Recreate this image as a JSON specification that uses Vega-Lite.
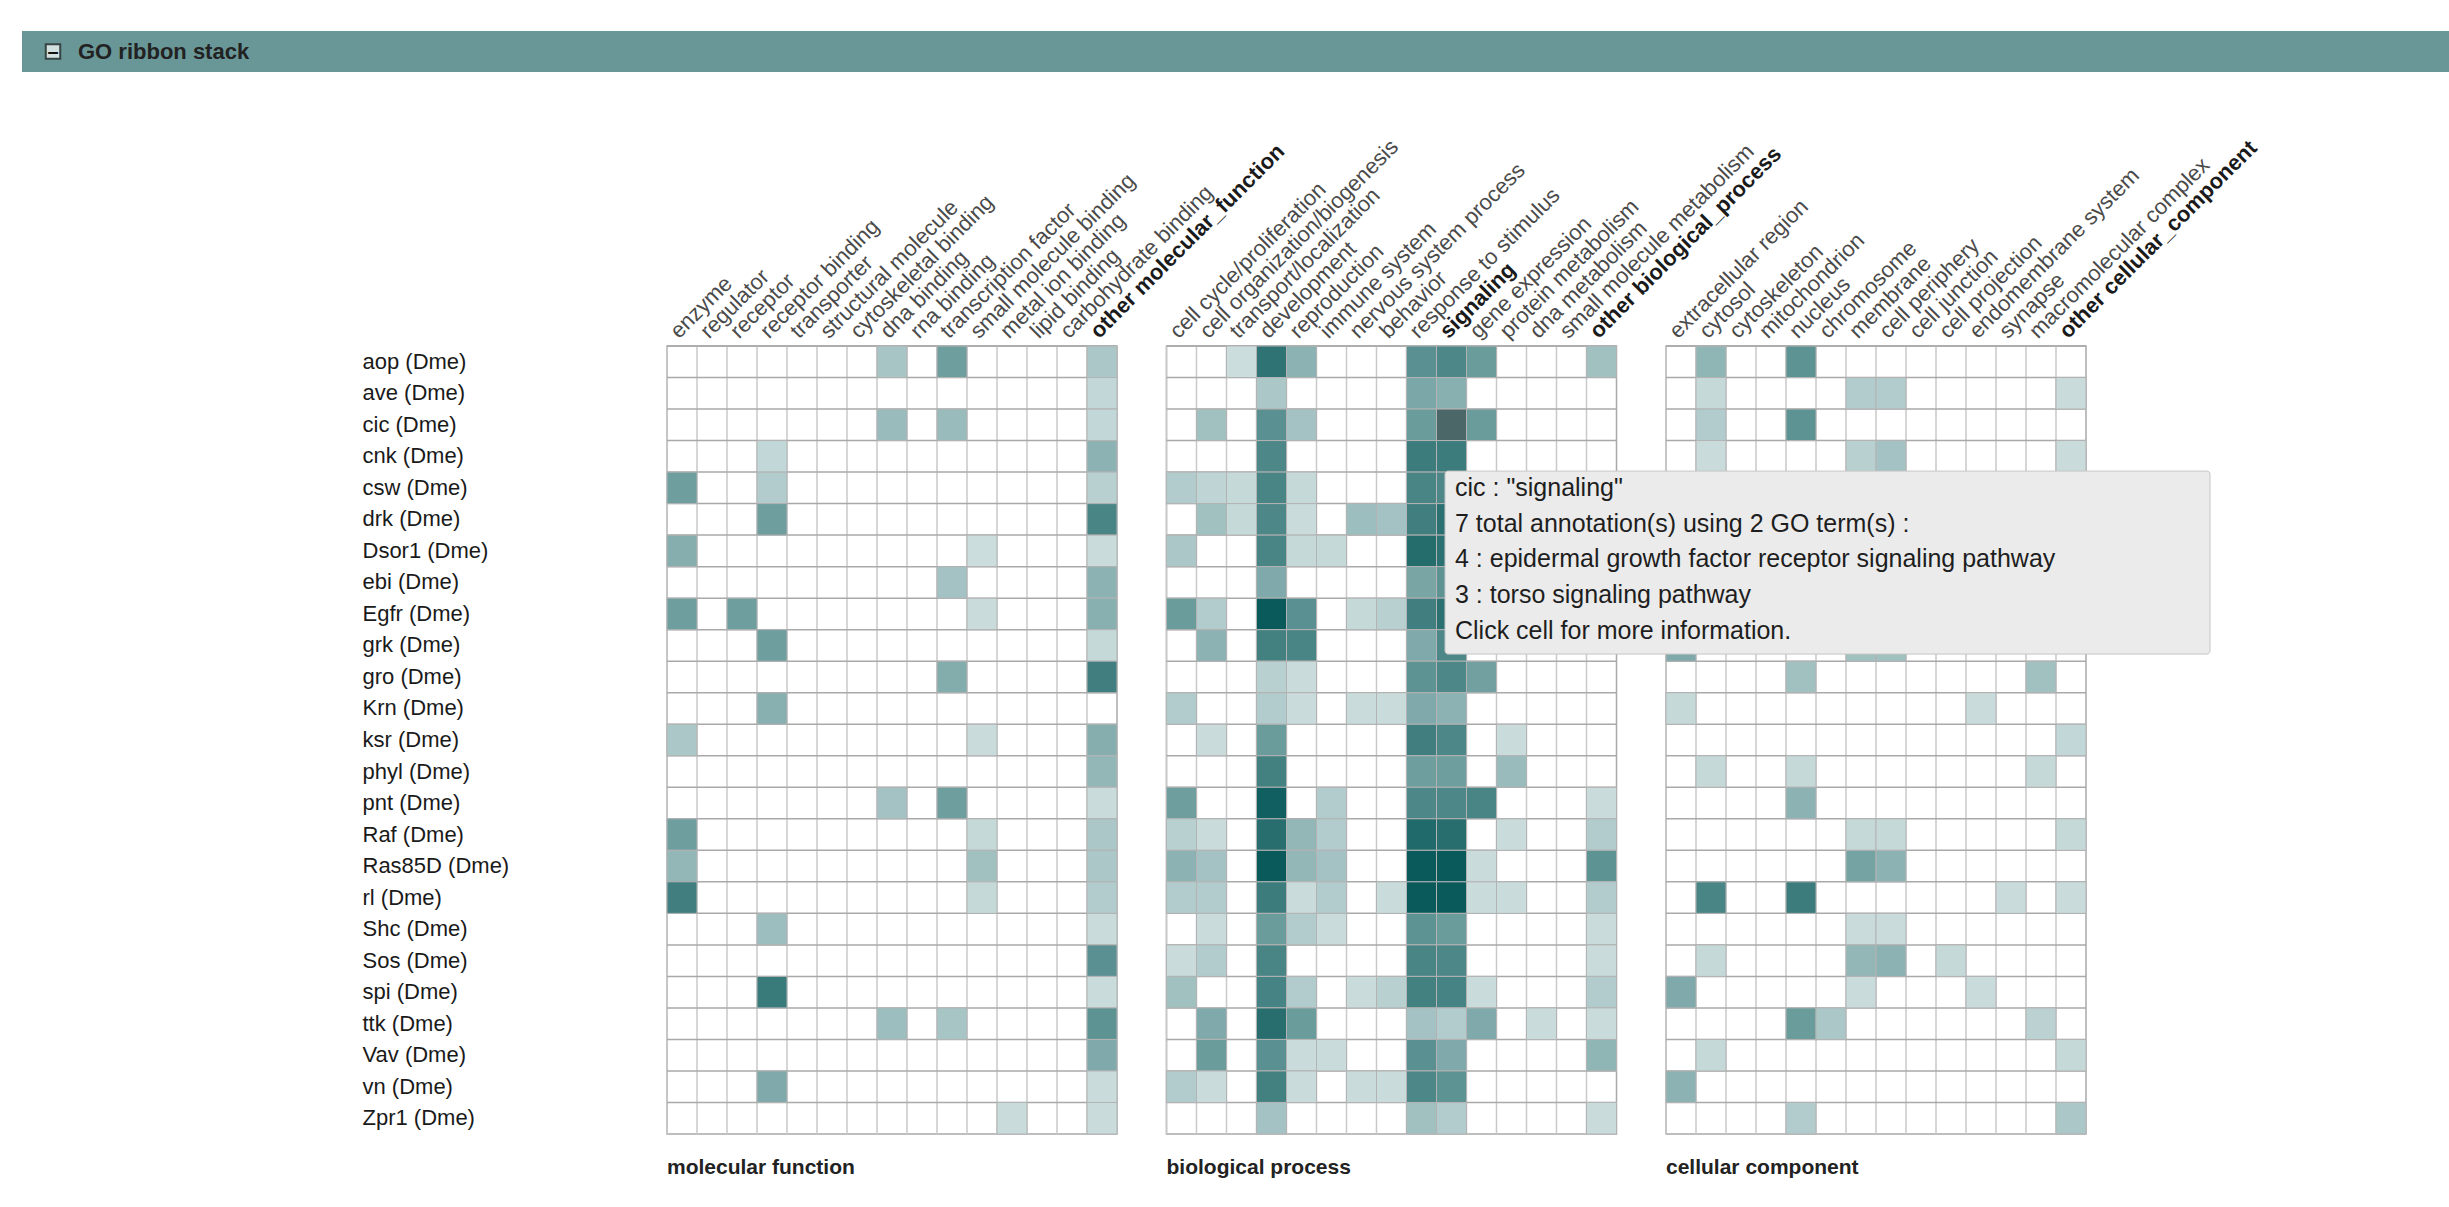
{
  "$schema": "https://vega.github.io/schema/vega-lite/v6.json",
  "background": "#ffffff",
  "padding": {"left": 22, "top": 31, "right": 0, "bottom": 0},
  "spacing": 62,
  "config": {
    "font": "Liberation Sans",
    "view": {"stroke": null},
    "axis": {"ticks": false, "domain": false, "grid": false, "labelFont": "Liberation Sans", "labelOverlap": false, "labelLimit": 600},
    "axisX": {"labelAngle": -45, "labelAlign": "left", "labelBaseline": "middle", "labelFontSize": 22, "labelPadding": 12, "labelOffset": -8},
    "title": {"font": "Liberation Sans", "fontSize": 21, "fontWeight": "bold", "color": "#222222", "orient": "bottom", "anchor": "start", "frame": "group", "offset": 22}
  },
  "datasets": {
    "genes": [
      {"gene": "aop"}, {"gene": "ave"}, {"gene": "cic"}, {"gene": "cnk"}, {"gene": "csw"}, {"gene": "drk"}, {"gene": "Dsor1"}, {"gene": "ebi"}, {"gene": "Egfr"}, {"gene": "grk"}, {"gene": "gro"}, {"gene": "Krn"}, {"gene": "ksr"}, {"gene": "phyl"}, {"gene": "pnt"}, {"gene": "Raf"}, {"gene": "Ras85D"}, {"gene": "rl"}, {"gene": "Shc"}, {"gene": "Sos"}, {"gene": "spi"}, {"gene": "ttk"}, {"gene": "Vav"}, {"gene": "vn"}, {"gene": "Zpr1"}
    ],
    "mfTerms": [
      {"term": "enzyme"}, {"term": "regulator"}, {"term": "receptor"}, {"term": "receptor binding"}, {"term": "transporter"}, {"term": "structural molecule"}, {"term": "cytoskeletal binding"}, {"term": "dna binding"}, {"term": "rna binding"}, {"term": "transcription factor"}, {"term": "small molecule binding"}, {"term": "metal ion binding"}, {"term": "lipid binding"}, {"term": "carbohydrate binding"}, {"term": "other molecular_function"}
    ],
    "bpTerms": [
      {"term": "cell cycle/proliferation"}, {"term": "cell organization/biogenesis"}, {"term": "transport/localization"}, {"term": "development"}, {"term": "reproduction"}, {"term": "immune system"}, {"term": "nervous system process"}, {"term": "behavior"}, {"term": "response to stimulus"}, {"term": "signaling"}, {"term": "gene expression"}, {"term": "protein metabolism"}, {"term": "dna metabolism"}, {"term": "small molecule metabolism"}, {"term": "other biological_process"}
    ],
    "ccTerms": [
      {"term": "extracellular region"}, {"term": "cytosol"}, {"term": "cytoskeleton"}, {"term": "mitochondrion"}, {"term": "nucleus"}, {"term": "chromosome"}, {"term": "membrane"}, {"term": "cell periphery"}, {"term": "cell junction"}, {"term": "cell projection"}, {"term": "endomembrane system"}, {"term": "synapse"}, {"term": "macromolecular complex"}, {"term": "other cellular_component"}
    ],
    "mf": [
      {"gene": "aop", "term": "dna binding", "level": 2.3},
      {"gene": "aop", "term": "transcription factor", "level": 4},
      {"gene": "aop", "term": "other molecular_function", "level": 2.2},
      {"gene": "ave", "term": "other molecular_function", "level": 1.5},
      {"gene": "cic", "term": "dna binding", "level": 2.7},
      {"gene": "cic", "term": "transcription factor", "level": 2.7},
      {"gene": "cic", "term": "other molecular_function", "level": 1.5},
      {"gene": "cnk", "term": "receptor binding", "level": 1.5},
      {"gene": "cnk", "term": "other molecular_function", "level": 3.1},
      {"gene": "csw", "term": "enzyme", "level": 4},
      {"gene": "csw", "term": "receptor binding", "level": 2},
      {"gene": "csw", "term": "other molecular_function", "level": 1.8},
      {"gene": "drk", "term": "receptor binding", "level": 4},
      {"gene": "drk", "term": "other molecular_function", "level": 5.1},
      {"gene": "Dsor1", "term": "enzyme", "level": 3.3},
      {"gene": "Dsor1", "term": "small molecule binding", "level": 1.2},
      {"gene": "Dsor1", "term": "other molecular_function", "level": 1.3},
      {"gene": "ebi", "term": "transcription factor", "level": 2.4},
      {"gene": "ebi", "term": "other molecular_function", "level": 3.1},
      {"gene": "Egfr", "term": "enzyme", "level": 4},
      {"gene": "Egfr", "term": "receptor", "level": 4},
      {"gene": "Egfr", "term": "small molecule binding", "level": 1.3},
      {"gene": "Egfr", "term": "other molecular_function", "level": 3.2},
      {"gene": "grk", "term": "receptor binding", "level": 4},
      {"gene": "grk", "term": "other molecular_function", "level": 1.4},
      {"gene": "gro", "term": "transcription factor", "level": 3.4},
      {"gene": "gro", "term": "other molecular_function", "level": 5.4},
      {"gene": "Krn", "term": "receptor binding", "level": 3.2},
      {"gene": "ksr", "term": "enzyme", "level": 2.2},
      {"gene": "ksr", "term": "small molecule binding", "level": 1.3},
      {"gene": "ksr", "term": "other molecular_function", "level": 3.3},
      {"gene": "phyl", "term": "other molecular_function", "level": 2.9},
      {"gene": "pnt", "term": "dna binding", "level": 2.4},
      {"gene": "pnt", "term": "transcription factor", "level": 4},
      {"gene": "pnt", "term": "other molecular_function", "level": 1.3},
      {"gene": "Raf", "term": "enzyme", "level": 4},
      {"gene": "Raf", "term": "small molecule binding", "level": 1.4},
      {"gene": "Raf", "term": "other molecular_function", "level": 2.2},
      {"gene": "Ras85D", "term": "enzyme", "level": 2.9},
      {"gene": "Ras85D", "term": "small molecule binding", "level": 2.5},
      {"gene": "Ras85D", "term": "other molecular_function", "level": 2.2},
      {"gene": "rl", "term": "enzyme", "level": 5.4},
      {"gene": "rl", "term": "small molecule binding", "level": 1.4},
      {"gene": "rl", "term": "other molecular_function", "level": 2},
      {"gene": "Shc", "term": "receptor binding", "level": 2.6},
      {"gene": "Shc", "term": "other molecular_function", "level": 1.3},
      {"gene": "Sos", "term": "other molecular_function", "level": 4.6},
      {"gene": "spi", "term": "receptor binding", "level": 5.6},
      {"gene": "spi", "term": "other molecular_function", "level": 1.3},
      {"gene": "ttk", "term": "dna binding", "level": 2.6},
      {"gene": "ttk", "term": "transcription factor", "level": 2.3},
      {"gene": "ttk", "term": "other molecular_function", "level": 4.5},
      {"gene": "Vav", "term": "other molecular_function", "level": 3.5},
      {"gene": "vn", "term": "receptor binding", "level": 3.5},
      {"gene": "vn", "term": "other molecular_function", "level": 1.3},
      {"gene": "Zpr1", "term": "metal ion binding", "level": 1.3},
      {"gene": "Zpr1", "term": "other molecular_function", "level": 1.3}
    ],
    "bp": [
      {"gene": "aop", "term": "transport/localization", "level": 1.2},
      {"gene": "aop", "term": "development", "level": 5.9},
      {"gene": "aop", "term": "reproduction", "level": 3.1},
      {"gene": "aop", "term": "response to stimulus", "level": 4.6},
      {"gene": "aop", "term": "signaling", "level": 5},
      {"gene": "aop", "term": "gene expression", "level": 4.1},
      {"gene": "aop", "term": "other biological_process", "level": 2.5},
      {"gene": "ave", "term": "development", "level": 2.2},
      {"gene": "ave", "term": "response to stimulus", "level": 3.6},
      {"gene": "ave", "term": "signaling", "level": 3.2},
      {"gene": "cic", "term": "cell organization/biogenesis", "level": 2.5},
      {"gene": "cic", "term": "development", "level": 4.6},
      {"gene": "cic", "term": "reproduction", "level": 2.4},
      {"gene": "cic", "term": "response to stimulus", "level": 4.1},
      {"gene": "cic", "term": "signaling", "level": 4.5},
      {"gene": "cic", "term": "gene expression", "level": 4.1},
      {"gene": "cnk", "term": "development", "level": 5},
      {"gene": "cnk", "term": "response to stimulus", "level": 5.5},
      {"gene": "cnk", "term": "signaling", "level": 5.5},
      {"gene": "csw", "term": "cell cycle/proliferation", "level": 2},
      {"gene": "csw", "term": "cell organization/biogenesis", "level": 1.6},
      {"gene": "csw", "term": "transport/localization", "level": 1.4},
      {"gene": "csw", "term": "development", "level": 5.1},
      {"gene": "csw", "term": "reproduction", "level": 1.4},
      {"gene": "csw", "term": "response to stimulus", "level": 5.1},
      {"gene": "csw", "term": "signaling", "level": 5},
      {"gene": "drk", "term": "cell organization/biogenesis", "level": 2.5},
      {"gene": "drk", "term": "transport/localization", "level": 1.4},
      {"gene": "drk", "term": "development", "level": 5},
      {"gene": "drk", "term": "reproduction", "level": 1.3},
      {"gene": "drk", "term": "nervous system process", "level": 2.6},
      {"gene": "drk", "term": "behavior", "level": 2.4},
      {"gene": "drk", "term": "response to stimulus", "level": 5.4},
      {"gene": "drk", "term": "signaling", "level": 6},
      {"gene": "Dsor1", "term": "cell cycle/proliferation", "level": 2.2},
      {"gene": "Dsor1", "term": "development", "level": 5.1},
      {"gene": "Dsor1", "term": "reproduction", "level": 1.4},
      {"gene": "Dsor1", "term": "immune system", "level": 1.4},
      {"gene": "Dsor1", "term": "response to stimulus", "level": 6.2},
      {"gene": "Dsor1", "term": "signaling", "level": 6},
      {"gene": "ebi", "term": "development", "level": 3.5},
      {"gene": "ebi", "term": "response to stimulus", "level": 3.7},
      {"gene": "ebi", "term": "signaling", "level": 4.5},
      {"gene": "Egfr", "term": "cell cycle/proliferation", "level": 4.1},
      {"gene": "Egfr", "term": "cell organization/biogenesis", "level": 2},
      {"gene": "Egfr", "term": "development", "level": 7},
      {"gene": "Egfr", "term": "reproduction", "level": 4.6},
      {"gene": "Egfr", "term": "nervous system process", "level": 1.4},
      {"gene": "Egfr", "term": "behavior", "level": 1.8},
      {"gene": "Egfr", "term": "response to stimulus", "level": 5.4},
      {"gene": "Egfr", "term": "signaling", "level": 6},
      {"gene": "grk", "term": "cell organization/biogenesis", "level": 3.1},
      {"gene": "grk", "term": "development", "level": 5.3},
      {"gene": "grk", "term": "reproduction", "level": 5.1},
      {"gene": "grk", "term": "response to stimulus", "level": 3.5},
      {"gene": "grk", "term": "signaling", "level": 5},
      {"gene": "gro", "term": "development", "level": 1.8},
      {"gene": "gro", "term": "reproduction", "level": 1.3},
      {"gene": "gro", "term": "response to stimulus", "level": 4.5},
      {"gene": "gro", "term": "signaling", "level": 5},
      {"gene": "gro", "term": "gene expression", "level": 3.9},
      {"gene": "Krn", "term": "cell cycle/proliferation", "level": 2},
      {"gene": "Krn", "term": "development", "level": 2},
      {"gene": "Krn", "term": "reproduction", "level": 1.3},
      {"gene": "Krn", "term": "nervous system process", "level": 1.3},
      {"gene": "Krn", "term": "behavior", "level": 1.3},
      {"gene": "Krn", "term": "response to stimulus", "level": 3.5},
      {"gene": "Krn", "term": "signaling", "level": 3.1},
      {"gene": "ksr", "term": "cell organization/biogenesis", "level": 1.3},
      {"gene": "ksr", "term": "development", "level": 4.1},
      {"gene": "ksr", "term": "response to stimulus", "level": 5.4},
      {"gene": "ksr", "term": "signaling", "level": 5},
      {"gene": "ksr", "term": "protein metabolism", "level": 1.3},
      {"gene": "phyl", "term": "development", "level": 5.3},
      {"gene": "phyl", "term": "response to stimulus", "level": 4},
      {"gene": "phyl", "term": "signaling", "level": 4},
      {"gene": "phyl", "term": "protein metabolism", "level": 2.7},
      {"gene": "pnt", "term": "cell cycle/proliferation", "level": 4},
      {"gene": "pnt", "term": "development", "level": 6.8},
      {"gene": "pnt", "term": "immune system", "level": 2},
      {"gene": "pnt", "term": "response to stimulus", "level": 5},
      {"gene": "pnt", "term": "signaling", "level": 5},
      {"gene": "pnt", "term": "gene expression", "level": 5.1},
      {"gene": "pnt", "term": "other biological_process", "level": 1.3},
      {"gene": "Raf", "term": "cell cycle/proliferation", "level": 1.8},
      {"gene": "Raf", "term": "cell organization/biogenesis", "level": 1.3},
      {"gene": "Raf", "term": "development", "level": 6.1},
      {"gene": "Raf", "term": "reproduction", "level": 2.9},
      {"gene": "Raf", "term": "immune system", "level": 2},
      {"gene": "Raf", "term": "response to stimulus", "level": 6.3},
      {"gene": "Raf", "term": "signaling", "level": 6.1},
      {"gene": "Raf", "term": "protein metabolism", "level": 1.3},
      {"gene": "Raf", "term": "other biological_process", "level": 2},
      {"gene": "Ras85D", "term": "cell cycle/proliferation", "level": 3.1},
      {"gene": "Ras85D", "term": "cell organization/biogenesis", "level": 2.4},
      {"gene": "Ras85D", "term": "development", "level": 7},
      {"gene": "Ras85D", "term": "reproduction", "level": 2.9},
      {"gene": "Ras85D", "term": "immune system", "level": 2.4},
      {"gene": "Ras85D", "term": "response to stimulus", "level": 7},
      {"gene": "Ras85D", "term": "signaling", "level": 7},
      {"gene": "Ras85D", "term": "gene expression", "level": 1.3},
      {"gene": "Ras85D", "term": "other biological_process", "level": 4.5},
      {"gene": "rl", "term": "cell cycle/proliferation", "level": 2},
      {"gene": "rl", "term": "cell organization/biogenesis", "level": 2},
      {"gene": "rl", "term": "development", "level": 5.5},
      {"gene": "rl", "term": "reproduction", "level": 1.3},
      {"gene": "rl", "term": "immune system", "level": 2},
      {"gene": "rl", "term": "behavior", "level": 1.3},
      {"gene": "rl", "term": "response to stimulus", "level": 7},
      {"gene": "rl", "term": "signaling", "level": 7},
      {"gene": "rl", "term": "gene expression", "level": 1.3},
      {"gene": "rl", "term": "protein metabolism", "level": 1.3},
      {"gene": "rl", "term": "other biological_process", "level": 2},
      {"gene": "Shc", "term": "cell organization/biogenesis", "level": 1.3},
      {"gene": "Shc", "term": "development", "level": 4.1},
      {"gene": "Shc", "term": "reproduction", "level": 2},
      {"gene": "Shc", "term": "immune system", "level": 1.3},
      {"gene": "Shc", "term": "response to stimulus", "level": 4.5},
      {"gene": "Shc", "term": "signaling", "level": 4.1},
      {"gene": "Shc", "term": "other biological_process", "level": 1.3},
      {"gene": "Sos", "term": "cell cycle/proliferation", "level": 1.3},
      {"gene": "Sos", "term": "cell organization/biogenesis", "level": 2},
      {"gene": "Sos", "term": "development", "level": 5.1},
      {"gene": "Sos", "term": "response to stimulus", "level": 5.1},
      {"gene": "Sos", "term": "signaling", "level": 5},
      {"gene": "Sos", "term": "other biological_process", "level": 1.3},
      {"gene": "spi", "term": "cell cycle/proliferation", "level": 2.5},
      {"gene": "spi", "term": "development", "level": 5.2},
      {"gene": "spi", "term": "reproduction", "level": 2},
      {"gene": "spi", "term": "nervous system process", "level": 1.3},
      {"gene": "spi", "term": "behavior", "level": 1.8},
      {"gene": "spi", "term": "response to stimulus", "level": 5.3},
      {"gene": "spi", "term": "signaling", "level": 5.2},
      {"gene": "spi", "term": "gene expression", "level": 1.3},
      {"gene": "spi", "term": "other biological_process", "level": 2},
      {"gene": "ttk", "term": "cell organization/biogenesis", "level": 3.5},
      {"gene": "ttk", "term": "development", "level": 6.1},
      {"gene": "ttk", "term": "reproduction", "level": 4.1},
      {"gene": "ttk", "term": "response to stimulus", "level": 2.4},
      {"gene": "ttk", "term": "signaling", "level": 2},
      {"gene": "ttk", "term": "gene expression", "level": 3.5},
      {"gene": "ttk", "term": "dna metabolism", "level": 1.3},
      {"gene": "ttk", "term": "other biological_process", "level": 1.3},
      {"gene": "Vav", "term": "cell organization/biogenesis", "level": 4.1},
      {"gene": "Vav", "term": "development", "level": 4.6},
      {"gene": "Vav", "term": "reproduction", "level": 1.3},
      {"gene": "Vav", "term": "immune system", "level": 1.3},
      {"gene": "Vav", "term": "response to stimulus", "level": 4.6},
      {"gene": "Vav", "term": "signaling", "level": 3.5},
      {"gene": "Vav", "term": "other biological_process", "level": 3},
      {"gene": "vn", "term": "cell cycle/proliferation", "level": 2},
      {"gene": "vn", "term": "cell organization/biogenesis", "level": 1.3},
      {"gene": "vn", "term": "development", "level": 5.3},
      {"gene": "vn", "term": "reproduction", "level": 1.3},
      {"gene": "vn", "term": "nervous system process", "level": 1.3},
      {"gene": "vn", "term": "behavior", "level": 1.3},
      {"gene": "vn", "term": "response to stimulus", "level": 5},
      {"gene": "vn", "term": "signaling", "level": 4.5},
      {"gene": "Zpr1", "term": "development", "level": 2.4},
      {"gene": "Zpr1", "term": "response to stimulus", "level": 2.5},
      {"gene": "Zpr1", "term": "signaling", "level": 2},
      {"gene": "Zpr1", "term": "other biological_process", "level": 1.3}
    ],
    "cc": [
      {"gene": "aop", "term": "cytosol", "level": 3},
      {"gene": "aop", "term": "nucleus", "level": 4.5},
      {"gene": "ave", "term": "cytosol", "level": 1.4},
      {"gene": "ave", "term": "membrane", "level": 2},
      {"gene": "ave", "term": "cell periphery", "level": 2},
      {"gene": "ave", "term": "other cellular_component", "level": 1.3},
      {"gene": "cic", "term": "cytosol", "level": 2},
      {"gene": "cic", "term": "nucleus", "level": 4.5},
      {"gene": "cnk", "term": "cytosol", "level": 1.3},
      {"gene": "cnk", "term": "membrane", "level": 1.8},
      {"gene": "cnk", "term": "cell periphery", "level": 2.4},
      {"gene": "cnk", "term": "other cellular_component", "level": 1.3},
      {"gene": "grk", "term": "extracellular region", "level": 3.5},
      {"gene": "grk", "term": "membrane", "level": 2.5},
      {"gene": "grk", "term": "cell periphery", "level": 2.5},
      {"gene": "gro", "term": "nucleus", "level": 2.5},
      {"gene": "gro", "term": "macromolecular complex", "level": 2.5},
      {"gene": "Krn", "term": "extracellular region", "level": 1.4},
      {"gene": "Krn", "term": "endomembrane system", "level": 1.3},
      {"gene": "ksr", "term": "other cellular_component", "level": 1.5},
      {"gene": "phyl", "term": "cytosol", "level": 1.4},
      {"gene": "phyl", "term": "nucleus", "level": 1.4},
      {"gene": "phyl", "term": "macromolecular complex", "level": 1.4},
      {"gene": "pnt", "term": "nucleus", "level": 3.1},
      {"gene": "Raf", "term": "membrane", "level": 1.4},
      {"gene": "Raf", "term": "cell periphery", "level": 1.4},
      {"gene": "Raf", "term": "other cellular_component", "level": 1.4},
      {"gene": "Ras85D", "term": "membrane", "level": 3.8},
      {"gene": "Ras85D", "term": "cell periphery", "level": 3.1},
      {"gene": "rl", "term": "cytosol", "level": 5.1},
      {"gene": "rl", "term": "nucleus", "level": 5.5},
      {"gene": "rl", "term": "synapse", "level": 1.3},
      {"gene": "rl", "term": "other cellular_component", "level": 1.3},
      {"gene": "Shc", "term": "membrane", "level": 1.3},
      {"gene": "Shc", "term": "cell periphery", "level": 1.3},
      {"gene": "Sos", "term": "cytosol", "level": 1.4},
      {"gene": "Sos", "term": "membrane", "level": 2.9},
      {"gene": "Sos", "term": "cell periphery", "level": 3.1},
      {"gene": "Sos", "term": "cell projection", "level": 1.4},
      {"gene": "spi", "term": "extracellular region", "level": 3.5},
      {"gene": "spi", "term": "membrane", "level": 1.3},
      {"gene": "spi", "term": "endomembrane system", "level": 1.3},
      {"gene": "ttk", "term": "nucleus", "level": 4.1},
      {"gene": "ttk", "term": "chromosome", "level": 2.2},
      {"gene": "ttk", "term": "macromolecular complex", "level": 1.7},
      {"gene": "Vav", "term": "cytosol", "level": 1.4},
      {"gene": "Vav", "term": "other cellular_component", "level": 1.4},
      {"gene": "vn", "term": "extracellular region", "level": 3.1},
      {"gene": "Zpr1", "term": "nucleus", "level": 2},
      {"gene": "Zpr1", "term": "other cellular_component", "level": 2.2}
    ],
    "tip": [
      {"gene": "cic", "term": "signaling", "text": "cic : \"signaling\"\n7 total annotation(s) using 2 GO term(s) :\n\u00a0\u00a0\u00a0\u00a04 : epidermal growth factor receptor signaling pathway\n\u00a0\u00a0\u00a0\u00a03 : torso signaling pathway\nClick cell for more information."}
    ]
  },
  "vconcat": [
    {
      "width": 1782,
      "height": 41,
      "data": {"values": [{"panel": "GO ribbon stack"}]},
      "view": {"fill": "#699797"},
      "layer": [
        {"mark": {"type": "rect", "color": "#699797", "xOffset": -645},
         "encoding": {
           "x": {"datum": 0, "type": "quantitative", "axis": null, "scale": {"domain": [0, 1]}},
           "x2": {"datum": 1}
         }},
        {"mark": {"type": "square", "size": 210, "filled": true, "color": "#ffffff", "stroke": "#222222", "strokeWidth": 2, "xOffset": -614},
         "encoding": {"x": {"datum": 0, "type": "quantitative", "axis": null, "scale": {"domain": [0, 1]}}}},
        {"mark": {"type": "text", "text": "\u2013", "fontSize": 20, "fontWeight": "bold", "color": "#111111", "xOffset": -614, "align": "center", "baseline": "middle"},
         "encoding": {"x": {"datum": 0, "type": "quantitative", "axis": null, "scale": {"domain": [0, 1]}}}},
        {"mark": {"type": "text", "align": "left", "baseline": "middle", "dx": -589, "fontSize": 22, "fontWeight": "bold", "font": "Liberation Sans Narrow, Liberation Sans", "color": "#222222"},
         "encoding": {"x": {"datum": 0, "type": "quantitative", "axis": null, "scale": {"domain": [0, 1]}}, "text": {"field": "panel"}}}
      ]
    },
    {
      "spacing": 49.5,
      "bounds": "flush",
      "hconcat": [
        {
          "width": 450,
          "height": 788,
          "view": {"stroke": "#a9a9a9", "strokeWidth": 1.5},
          "title": {"text": "molecular function"},
          "layer": [
            {
              "data": {"name": "mfTerms"},
              "mark": {"type": "rule", "color": "#c9c9c9", "strokeWidth": 1.5},
              "encoding": {
                "x": {"field": "term", "type": "nominal", "bandPosition": 0, "title": null,
                  "scale": {"domain": ["enzyme", "regulator", "receptor", "receptor binding", "transporter", "structural molecule", "cytoskeletal binding", "dna binding", "rna binding", "transcription factor", "small molecule binding", "metal ion binding", "lipid binding", "carbohydrate binding", "other molecular_function"], "paddingInner": 0, "paddingOuter": 0}}
              }
            },
            {
              "data": {"name": "genes"},
              "mark": {"type": "rule", "color": "#a9a9a9", "strokeWidth": 1.5},
              "encoding": {
                "y": {"field": "gene", "type": "nominal", "bandPosition": 0, "title": " ",
                  "scale": {"domain": ["aop", "ave", "cic", "cnk", "csw", "drk", "Dsor1", "ebi", "Egfr", "grk", "gro", "Krn", "ksr", "phyl", "pnt", "Raf", "Ras85D", "rl", "Shc", "Sos", "spi", "ttk", "Vav", "vn", "Zpr1"], "paddingInner": 0, "paddingOuter": 0}}
              }
            },
            {
              "data": {"name": "mf"},
              "mark": {"type": "rect", "stroke": "#b3b3b3", "strokeWidth": 1},
              "encoding": {
                "x": {"field": "term", "type": "nominal", "title": null,
                  "scale": {"domain": ["enzyme", "regulator", "receptor", "receptor binding", "transporter", "structural molecule", "cytoskeletal binding", "dna binding", "rna binding", "transcription factor", "small molecule binding", "metal ion binding", "lipid binding", "carbohydrate binding", "other molecular_function"], "paddingInner": 0, "paddingOuter": 0},
                  "axis": {"orient": "top",
                    "labelFontWeight": {"condition": {"test": "indexof(datum.value, 'other ') === 0 || datum.value === 'signaling'", "value": "bold"}, "value": "normal"},
                    "labelColor": {"condition": {"test": "indexof(datum.value, 'other ') === 0 || datum.value === 'signaling'", "value": "#1a1a1a"}, "value": "#4a4a4a"}}},
                "y": {"field": "gene", "type": "nominal", "title": " ",
                  "scale": {"domain": ["aop", "ave", "cic", "cnk", "csw", "drk", "Dsor1", "ebi", "Egfr", "grk", "gro", "Krn", "ksr", "phyl", "pnt", "Raf", "Ras85D", "rl", "Shc", "Sos", "spi", "ttk", "Vav", "vn", "Zpr1"], "paddingInner": 0, "paddingOuter": 0},
                  "axis": {"orient": "left", "labelAlign": "left", "labelPadding": 305, "labelFontSize": 22, "labelColor": "#1a1a1a", "labelExpr": "datum.value + ' (Dme)'", "titleFontSize": 1, "titlePadding": 443}},
                "color": {"field": "level", "type": "quantitative", "legend": null,
                  "scale": {"domain": [1, 7], "range": ["#d3e2e2", "#0a5a5b"], "interpolate": "rgb"}}
              }
            }
          ]
        },
        {
          "width": 450,
          "height": 788,
          "view": {"stroke": "#a9a9a9", "strokeWidth": 1.5},
          "title": {"text": "biological process"},
          "layer": [
            {
              "data": {"name": "bpTerms"},
              "mark": {"type": "rule", "color": "#c9c9c9", "strokeWidth": 1.5},
              "encoding": {
                "x": {"field": "term", "type": "nominal", "bandPosition": 0, "title": null,
                  "scale": {"domain": ["cell cycle/proliferation", "cell organization/biogenesis", "transport/localization", "development", "reproduction", "immune system", "nervous system process", "behavior", "response to stimulus", "signaling", "gene expression", "protein metabolism", "dna metabolism", "small molecule metabolism", "other biological_process"], "paddingInner": 0, "paddingOuter": 0}}
              }
            },
            {
              "data": {"name": "genes"},
              "mark": {"type": "rule", "color": "#a9a9a9", "strokeWidth": 1.5},
              "encoding": {
                "y": {"field": "gene", "type": "nominal", "bandPosition": 0, "title": null,
                  "scale": {"domain": ["aop", "ave", "cic", "cnk", "csw", "drk", "Dsor1", "ebi", "Egfr", "grk", "gro", "Krn", "ksr", "phyl", "pnt", "Raf", "Ras85D", "rl", "Shc", "Sos", "spi", "ttk", "Vav", "vn", "Zpr1"], "paddingInner": 0, "paddingOuter": 0}}
              }
            },
            {
              "data": {"name": "bp"},
              "mark": {"type": "rect", "stroke": "#b3b3b3", "strokeWidth": 1},
              "encoding": {
                "x": {"field": "term", "type": "nominal", "title": null,
                  "scale": {"domain": ["cell cycle/proliferation", "cell organization/biogenesis", "transport/localization", "development", "reproduction", "immune system", "nervous system process", "behavior", "response to stimulus", "signaling", "gene expression", "protein metabolism", "dna metabolism", "small molecule metabolism", "other biological_process"], "paddingInner": 0, "paddingOuter": 0},
                  "axis": {"orient": "top",
                    "labelFontWeight": {"condition": {"test": "indexof(datum.value, 'other ') === 0 || datum.value === 'signaling'", "value": "bold"}, "value": "normal"},
                    "labelColor": {"condition": {"test": "indexof(datum.value, 'other ') === 0 || datum.value === 'signaling'", "value": "#1a1a1a"}, "value": "#4a4a4a"}}},
                "y": {"field": "gene", "type": "nominal", "title": null,
                  "scale": {"domain": ["aop", "ave", "cic", "cnk", "csw", "drk", "Dsor1", "ebi", "Egfr", "grk", "gro", "Krn", "ksr", "phyl", "pnt", "Raf", "Ras85D", "rl", "Shc", "Sos", "spi", "ttk", "Vav", "vn", "Zpr1"], "paddingInner": 0, "paddingOuter": 0},
                  "axis": {"orient": "left", "labels": false}},
                "color": {
                  "condition": {"test": "datum.gene === 'cic' && datum.term === 'signaling'", "value": "#4c6768"},
                  "field": "level", "type": "quantitative", "legend": null,
                  "scale": {"domain": [1, 7], "range": ["#d3e2e2", "#0a5a5b"], "interpolate": "rgb"}}
              }
            }
          ]
        },
        {
          "width": 420,
          "height": 788,
          "view": {"stroke": "#a9a9a9", "strokeWidth": 1.5},
          "title": {"text": "cellular component"},
          "layer": [
            {
              "data": {"name": "ccTerms"},
              "mark": {"type": "rule", "color": "#c9c9c9", "strokeWidth": 1.5},
              "encoding": {
                "x": {"field": "term", "type": "nominal", "bandPosition": 0, "title": null,
                  "scale": {"domain": ["extracellular region", "cytosol", "cytoskeleton", "mitochondrion", "nucleus", "chromosome", "membrane", "cell periphery", "cell junction", "cell projection", "endomembrane system", "synapse", "macromolecular complex", "other cellular_component"], "paddingInner": 0, "paddingOuter": 0}}
              }
            },
            {
              "data": {"name": "genes"},
              "mark": {"type": "rule", "color": "#a9a9a9", "strokeWidth": 1.5},
              "encoding": {
                "y": {"field": "gene", "type": "nominal", "bandPosition": 0, "title": null,
                  "scale": {"domain": ["aop", "ave", "cic", "cnk", "csw", "drk", "Dsor1", "ebi", "Egfr", "grk", "gro", "Krn", "ksr", "phyl", "pnt", "Raf", "Ras85D", "rl", "Shc", "Sos", "spi", "ttk", "Vav", "vn", "Zpr1"], "paddingInner": 0, "paddingOuter": 0}}
              }
            },
            {
              "data": {"name": "cc"},
              "mark": {"type": "rect", "stroke": "#b3b3b3", "strokeWidth": 1},
              "encoding": {
                "x": {"field": "term", "type": "nominal", "title": null,
                  "scale": {"domain": ["extracellular region", "cytosol", "cytoskeleton", "mitochondrion", "nucleus", "chromosome", "membrane", "cell periphery", "cell junction", "cell projection", "endomembrane system", "synapse", "macromolecular complex", "other cellular_component"], "paddingInner": 0, "paddingOuter": 0},
                  "axis": {"orient": "top",
                    "labelFontWeight": {"condition": {"test": "indexof(datum.value, 'other ') === 0 || datum.value === 'signaling'", "value": "bold"}, "value": "normal"},
                    "labelColor": {"condition": {"test": "indexof(datum.value, 'other ') === 0 || datum.value === 'signaling'", "value": "#1a1a1a"}, "value": "#4a4a4a"}}},
                "y": {"field": "gene", "type": "nominal", "title": null,
                  "scale": {"domain": ["aop", "ave", "cic", "cnk", "csw", "drk", "Dsor1", "ebi", "Egfr", "grk", "gro", "Krn", "ksr", "phyl", "pnt", "Raf", "Ras85D", "rl", "Shc", "Sos", "spi", "ttk", "Vav", "vn", "Zpr1"], "paddingInner": 0, "paddingOuter": 0},
                  "axis": {"orient": "left", "labels": false}},
                "color": {"field": "level", "type": "quantitative", "legend": null,
                  "scale": {"domain": [1, 7], "range": ["#d3e2e2", "#0a5a5b"], "interpolate": "rgb"}}
              }
            },
            {
              "data": {"name": "tip"},
              "mark": {"type": "rect", "width": 765, "height": 183, "xOffset": 146.5, "yOffset": 11.7, "fill": "#ebebeb", "stroke": "#c6c6c6", "strokeWidth": 1, "cornerRadius": 3},
              "encoding": {
                "x": {"datum": "extracellular region", "type": "nominal"},
                "y": {"datum": "Dsor1", "type": "nominal"}
              }
            },
            {
              "data": {"name": "tip"},
              "mark": {"type": "text", "align": "left", "baseline": "top", "lineBreak": "\n", "lineHeight": 35.7, "fontSize": 25, "font": "Liberation Sans", "color": "#1e1e1e", "dx": -226, "dy": -75},
              "encoding": {
                "x": {"datum": "extracellular region", "type": "nominal"},
                "y": {"datum": "Dsor1", "type": "nominal"},
                "text": {"field": "text"}
              }
            }
          ]
        }
      ]
    }
  ]
}
